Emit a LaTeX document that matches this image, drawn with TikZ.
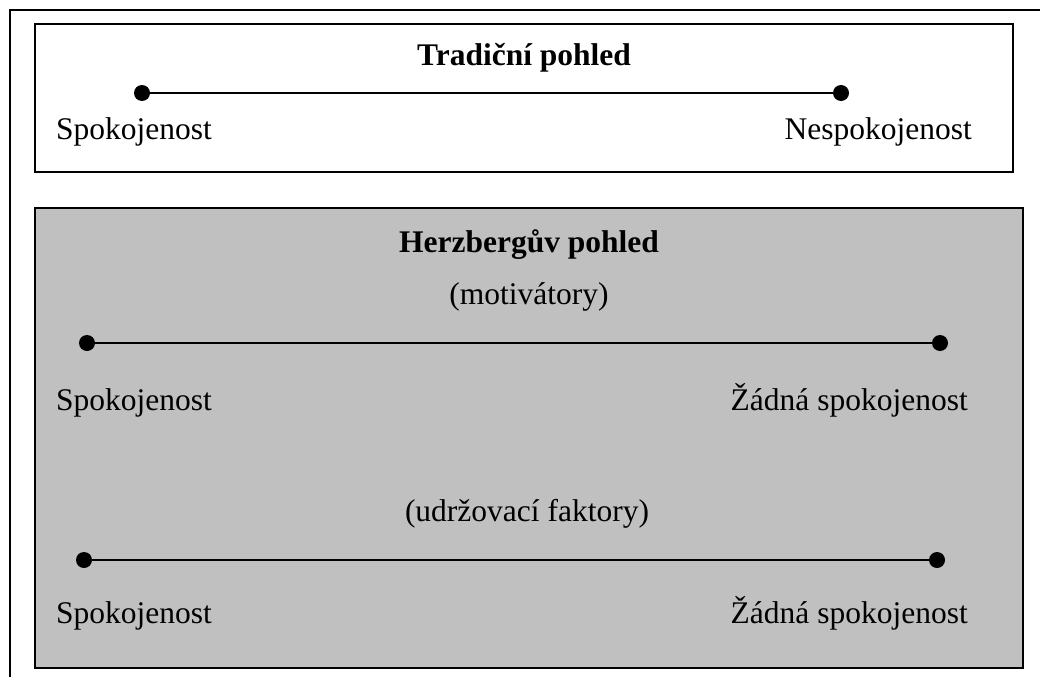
\documentclass[tikz,border=0pt]{standalone}
\usepackage{fontspec}
\setmainfont{Liberation Serif}
\begin{document}
\begin{tikzpicture}[x=1pt,y=-1pt,
  every node/.style={font=\fontsize{31.5}{38}\selectfont},
  frame/.style={line width=2pt},
  panel/.style={draw=black, line width=2pt},
  dot/.style={circle, fill=black, inner sep=0pt, minimum size=16pt},
  scale line/.style={line width=2pt},
  label/.style={inner sep=0pt},
  title/.style={inner sep=0pt, anchor=base, font=\fontsize{31.5}{38}\selectfont\bfseries}]
\definecolor{panelgray}{RGB}{192,192,192}
\useasboundingbox (0,0) rectangle (1040,677);
% outer frame (only left and top edges fall inside)
\coordinate (fl) at (9.5,677);
\coordinate (ft) at (9.5,10);
\coordinate (fr) at (1040,10);
\draw[frame] (fl) -- (ft) -- (fr);

% traditional view panel
\draw[panel] (35,24) rectangle (1013,172);
\node[title] (t1) at (524,66) {Tradiční pohled};
\node[dot] (a1) at (142,93) {};
\node[dot] (a2) at (841,93) {};
\draw[scale line] (a1) -- (a2);
\node[label, anchor=base west] (s1) at (56,139) {Spokojenost};
\node[label, anchor=base east] (n1) at (972,139) {Nespokojenost};

% Herzberg panel
\draw[panel, fill=panelgray] (35,208) rectangle (1023,668);
\node[title] (t2) at (529,252) {Herzbergův pohled};
\node[label, anchor=base] (m) at (529,304) {(motivátory)};
\node[dot] (b1) at (87,343) {};
\node[dot] (b2) at (940,343) {};
\draw[scale line] (b1) -- (b2);
\node[label, anchor=base west] (s2) at (56,410) {Spokojenost};
\node[label, anchor=base east] (z2) at (968,410) {Žádná spokojenost};

\node[label, anchor=base] (u) at (527,521) {(udržovací faktory)};
\node[dot] (c1) at (84,560) {};
\node[dot] (c2) at (937,560) {};
\draw[scale line] (c1) -- (c2);
\node[label, anchor=base west] (s3) at (56,623) {Spokojenost};
\node[label, anchor=base east] (z3) at (968,623) {Žádná spokojenost};
\end{tikzpicture}
\end{document}
